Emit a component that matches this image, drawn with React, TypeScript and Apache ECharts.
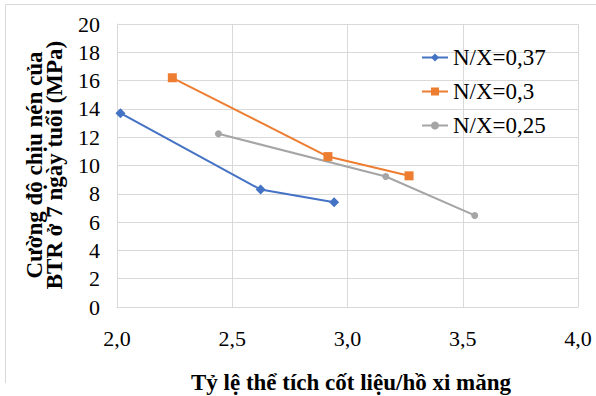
import React, { useEffect, useRef } from "react";
import * as echarts from "echarts";

// Aggregate/paste volume ratio (x) and 7-day compressive strength in MPa (y)
const ratioWC037 = [2.015, 2.623, 2.942];
const strengthWC037 = [13.7, 8.3, 7.4];

const ratioWC030 = [2.24, 2.915, 3.267];
const strengthWC030 = [16.2, 10.63, 9.27];

const ratioWC025 = [2.44, 3.166, 3.552];
const strengthWC025 = [12.24, 9.22, 6.47];

const seriesNames = ["N/X=0,37", "N/X=0,3", "N/X=0,25"];

const xTitle = "Tỷ lệ thể tích cốt liệu/hồ xi măng";
const yTitle = "Cường độ chịu nén của\nBTR ở 7 ngày tuổi (MPa)";

const pairs = (xs: number[], ys: number[]) => xs.map((x, i) => [x, ys[i]]);

const FONT = "Liberation Serif";
const GRID_COLOR = "#d9d9d9";

export default function App() {
  const ref = useRef<HTMLDivElement>(null);

  useEffect(() => {
    if (!ref.current) return;
    const chart = echarts.init(ref.current, undefined, { renderer: "svg" });

    const makeSeries = (
      name: string,
      data: number[][],
      color: string,
      symbol: string,
      symbolSize: number
    ) => ({
      name,
      type: "line",
      data,
      symbol,
      symbolSize,
      showSymbol: true,
      lineStyle: { color, width: 2 },
      itemStyle: { color },
    });

    chart.setOption({
      animation: false,
      backgroundColor: "#ffffff",
      textStyle: { fontFamily: FONT },
      grid: { left: 117, right: 18, top: 24, bottom: 89 },
      legend: {
        orient: "vertical",
        left: 421,
        top: 46,
        padding: 0,
        itemWidth: 26,
        itemHeight: 10,
        itemGap: 11,
        textStyle: { fontFamily: FONT, fontSize: 23, color: "#000" },
        data: seriesNames,
      },
      xAxis: {
        type: "value",
        min: 2,
        max: 4,
        interval: 0.5,
        axisLine: { show: true, lineStyle: { color: GRID_COLOR } },
        axisTick: { show: false },
        splitLine: { show: true, lineStyle: { color: GRID_COLOR, width: 1 } },
        axisLabel: {
          fontFamily: FONT,
          fontSize: 22,
          color: "#000",
          margin: 20,
          formatter: (v: number) => v.toFixed(1).replace(".", ","),
        },
      },
      yAxis: {
        type: "value",
        min: 0,
        max: 20,
        interval: 2,
        axisLine: { show: true, lineStyle: { color: GRID_COLOR } },
        axisTick: { show: false },
        splitLine: { show: true, lineStyle: { color: GRID_COLOR, width: 1 } },
        axisLabel: { fontFamily: FONT, fontSize: 22, color: "#000", margin: 17 },
      },
      graphic: [
        {
          type: "line",
          shape: { x1: 5.5, y1: 4.5, x2: 596, y2: 4.5 },
          style: { stroke: GRID_COLOR, lineWidth: 1 },
        },
        {
          type: "line",
          shape: { x1: 5.5, y1: 4.5, x2: 5.5, y2: 383 },
          style: { stroke: GRID_COLOR, lineWidth: 1 },
        },
        {
          type: "text",
          x: 44,
          y: 165,
          rotation: Math.PI / 2,
          style: {
            text: yTitle,
            fontFamily: FONT,
            fontSize: 23,
            fontWeight: "bold",
            lineHeight: 20,
            fill: "#000",
            align: "center",
            verticalAlign: "middle",
          },
        },
        {
          type: "text",
          x: 351,
          y: 382,
          style: {
            text: xTitle,
            fontFamily: FONT,
            fontSize: 23,
            fontWeight: "bold",
            fill: "#000",
            align: "center",
            verticalAlign: "middle",
          },
        },
      ],
      series: [
        makeSeries(seriesNames[0], pairs(ratioWC037, strengthWC037), "#4472C4", "diamond", 10),
        makeSeries(seriesNames[1], pairs(ratioWC030, strengthWC030), "#ED7D31", "rect", 9),
        makeSeries(seriesNames[2], pairs(ratioWC025, strengthWC025), "#A5A5A5", "circle", 7),
      ],
    });

    return () => chart.dispose();
  }, []);

  return <div ref={ref} style={{ width: 596, height: 396, position: "absolute", left: 0, top: 0 }} />;
}
